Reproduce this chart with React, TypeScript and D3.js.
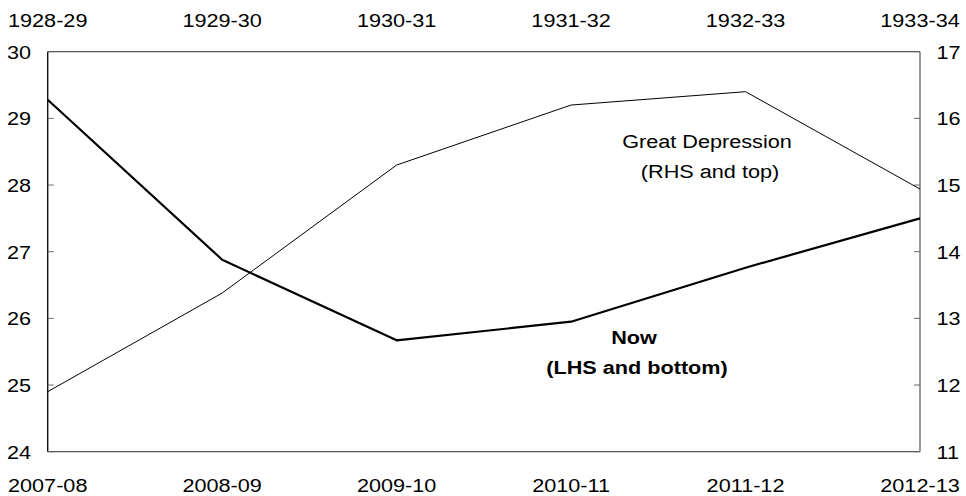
import React from "react";
import * as d3 from "d3";

const nowYears = ["2007-08", "2008-09", "2009-10", "2010-11", "2011-12", "2012-13"];
const gdYears = ["1928-29", "1929-30", "1930-31", "1931-32", "1932-33", "1933-34"];
const nowValues = [29.28, 26.88, 25.67, 25.95, 26.76, 27.5];
const gdValues = [11.9, 13.38, 15.3, 16.2, 16.4, 14.94];
const leftTicks = [24, 25, 26, 27, 28, 29, 30];
const rightTicks = [11, 12, 13, 14, 15, 16, 17];

const W = 966;
const H = 496;
const M = { left: 47.7, right: 920, top: 51.7, bottom: 451.7 };
const FONT = "'Liberation Sans', Arial, sans-serif";
const SX = 1.14;

export default function App() {
  const xIdx = d3.scaleLinear().domain([0, 5]).range([M.left, M.right]);
  const yL = d3.scaleLinear().domain([24, 30]).range([M.bottom, M.top]);
  const yR = d3.scaleLinear().domain([11, 17]).range([M.bottom, M.top]);

  const lineNow = d3.line<number>().x((_, i) => xIdx(i)).y((d) => yL(d));
  const lineGd = d3.line<number>().x((_, i) => xIdx(i)).y((d) => yR(d));

  const txt = (
    x: number,
    y: number,
    s: string,
    anchor: string,
    key: string,
    bold = false,
    size = 19
  ) => (
    <text
      key={key}
      transform={`translate(${x},${y}) scale(${SX},1)`}
      textAnchor={anchor}
      fontFamily={FONT}
      fontSize={size}
      fontWeight={bold ? "bold" : "normal"}
      fill="#000"
    >
      {s}
    </text>
  );

  return (
    <svg
      width={W}
      height={H}
      style={{ position: "absolute", left: 0, top: 0, background: "#fff" }}
    >
      {/* frame */}
      <line x1={M.left} x2={M.right} y1={M.top} y2={M.top} stroke="#555" strokeWidth={1.2} />
      <line x1={M.left} x2={M.right} y1={M.bottom} y2={M.bottom} stroke="#555" strokeWidth={1.2} />
      <line x1={M.right} x2={M.right} y1={M.top} y2={M.bottom} stroke="#555" strokeWidth={1.2} />
      <line x1={M.left} x2={M.left} y1={M.top} y2={M.bottom} stroke="#111" strokeWidth={1.4} />

      {/* ticks */}
      {leftTicks.map((t) => (
        <line key={"lt" + t} x1={M.left} x2={M.left + 6} y1={yL(t)} y2={yL(t)} stroke="#666" strokeWidth={1} />
      ))}
      {rightTicks.map((t) => (
        <line key={"rt" + t} x1={M.right - 6} x2={M.right} y1={yR(t)} y2={yR(t)} stroke="#666" strokeWidth={1} />
      ))}

      {/* tick labels */}
      {leftTicks.map((t) => txt(31, yL(t) + 7, String(t), "end", "ll" + t))}
      {rightTicks.map((t) => txt(936.5, yR(t) + 7, String(t), "start", "rl" + t))}
      {gdYears.map((s, i) => txt(xIdx(i), 26.7, s, "middle", "tl" + i))}
      {nowYears.map((s, i) => txt(xIdx(i), 491.7, s, "middle", "bl" + i))}

      {/* lines */}
      <path d={lineGd(gdValues) || ""} fill="none" stroke="#000" strokeWidth={1} />
      <path d={lineNow(nowValues) || ""} fill="none" stroke="#000" strokeWidth={2.2} strokeLinejoin="round" />

      {/* annotations */}
      {txt(707, 147.5, "Great Depression", "middle", "a1")}
      {txt(710, 177.5, "(RHS and top)", "middle", "a2")}
      {txt(634, 343.5, "Now", "middle", "a3", true)}
      {txt(637, 373.5, "(LHS and bottom)", "middle", "a4", true)}
    </svg>
  );
}
